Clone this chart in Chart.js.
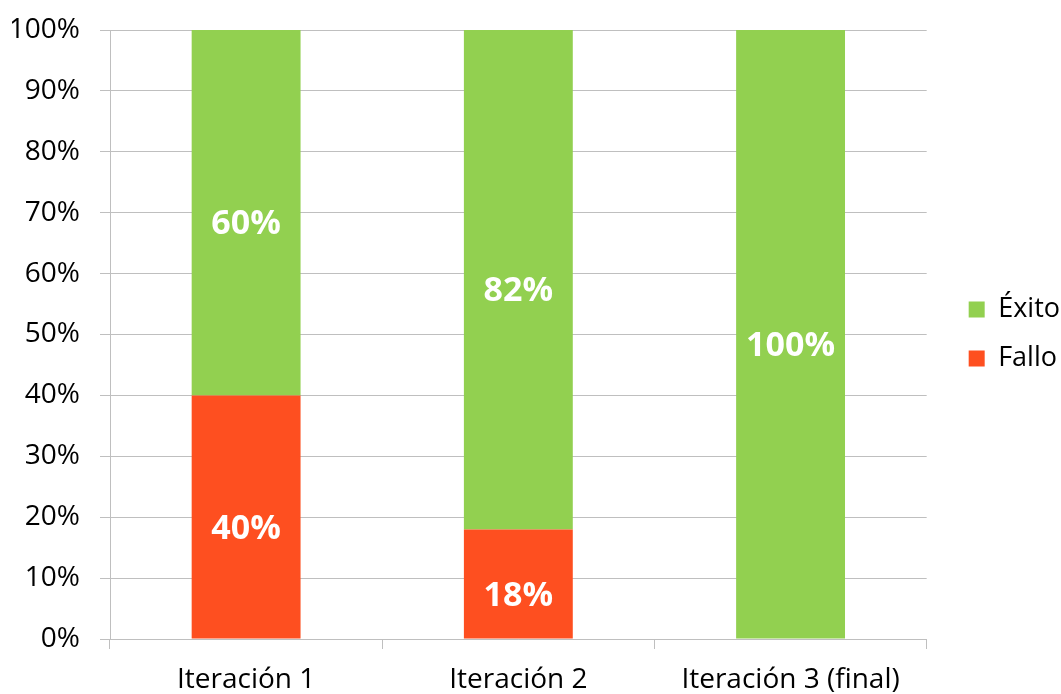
<!DOCTYPE html>
<html>
<head>
<meta charset="utf-8">
<script src="https://cdn.jsdelivr.net/npm/chart.js@4.4.0/dist/chart.umd.min.js"></script>
<style>
  html, body { margin: 0; padding: 0; background: #fff; }
  #wrap { width: 1061px; height: 694px; }
</style>
</head>
<body>
<div id="wrap"><canvas id="chart"></canvas></div>
<script>
const categories = ["Iteración 1", "Iteración 2", "Iteración 3 (final)"];
const falloValues = [40, 18, 0];
const exitoValues = [60, 82, 100];
const yTicks = [0, 10, 20, 30, 40, 50, 60, 70, 80, 90, 100];

const GREEN = "#92d050";
const RED = "#fe4f20";
const FONT = "'Open Sans', sans-serif";

// draws the white value labels inside each bar segment
const barLabels = {
  id: "barLabels",
  afterDatasetsDraw(chart) {
    const ctx = chart.ctx;
    ctx.save();
    ctx.fillStyle = "#fff";
    ctx.font = "bold 34px " + FONT;
    ctx.textAlign = "center";
    ctx.textBaseline = "middle";
    chart.data.datasets.forEach((ds, i) => {
      const meta = chart.getDatasetMeta(i);
      meta.data.forEach((bar, j) => {
        const v = ds.data[j];
        if (!v) return;
        const mid = (bar.y + bar.base) / 2;
        ctx.fillText(v + "%", bar.x, mid + 12);
      });
    });
    ctx.restore();
  },
};

// push the legend items a bit away from the plot and up, like the original
const legendShift = {
  id: "legendShift",
  afterLayout(chart) {
    const lg = chart.legend;
    if (!lg) return;
    lg.left += 20;
    lg.right += 20;
    lg.top -= 28;
    lg.bottom -= 28;
  },
};

new Chart(document.getElementById("chart"), {
  type: "bar",
  data: {
    labels: categories,
    datasets: [
      { label: "Fallo", data: falloValues, backgroundColor: RED, barPercentage: 0.4, categoryPercentage: 1 },
      { label: "Éxito", data: exitoValues, backgroundColor: GREEN, barPercentage: 0.4, categoryPercentage: 1 },
    ],
  },
  options: {
    responsive: true,
    maintainAspectRatio: false,
    animation: false,
    layout: { padding: { left: 12, right: 11, top: 30, bottom: 0 } },
    plugins: {
      tooltip: { enabled: false },
      legend: {
        position: "right",
        reverse: true,
        labels: {
          boxWidth: 16,
          boxHeight: 16,
          padding: 22,
          color: "#000",
          font: { family: FONT, size: 27 },
        },
      },
    },
    scales: {
      x: {
        stacked: true,
        afterFit(axis) {
          axis.height = 55;
        },
        grid: { drawOnChartArea: false, drawTicks: true, tickLength: 10, color: "#bfbfbf", offset: true },
        border: { display: true, color: "#bfbfbf" },
        ticks: { color: "#000", font: { family: FONT, size: 28, lineHeight: 1 }, padding: 17, maxRotation: 0 },
      },
      y: {
        stacked: true,
        min: 0,
        max: 100,
        afterFit(axis) {
          axis.width = 98;
          axis.paddingTop = 0;
          axis.paddingBottom = 0;
        },
        afterBuildTicks(axis) {
          axis.ticks = yTicks.map((v) => ({ value: v }));
        },
        grid: { color: "#bfbfbf", tickLength: 10 },
        border: { display: true, color: "#bfbfbf" },
        ticks: {
          color: "#000",
          font: { family: FONT, size: 28 },
          padding: 20,
          callback: (v) => v + "%",
        },
      },
    },
  },
  plugins: [barLabels, legendShift],
});
</script>
</body>
</html>
